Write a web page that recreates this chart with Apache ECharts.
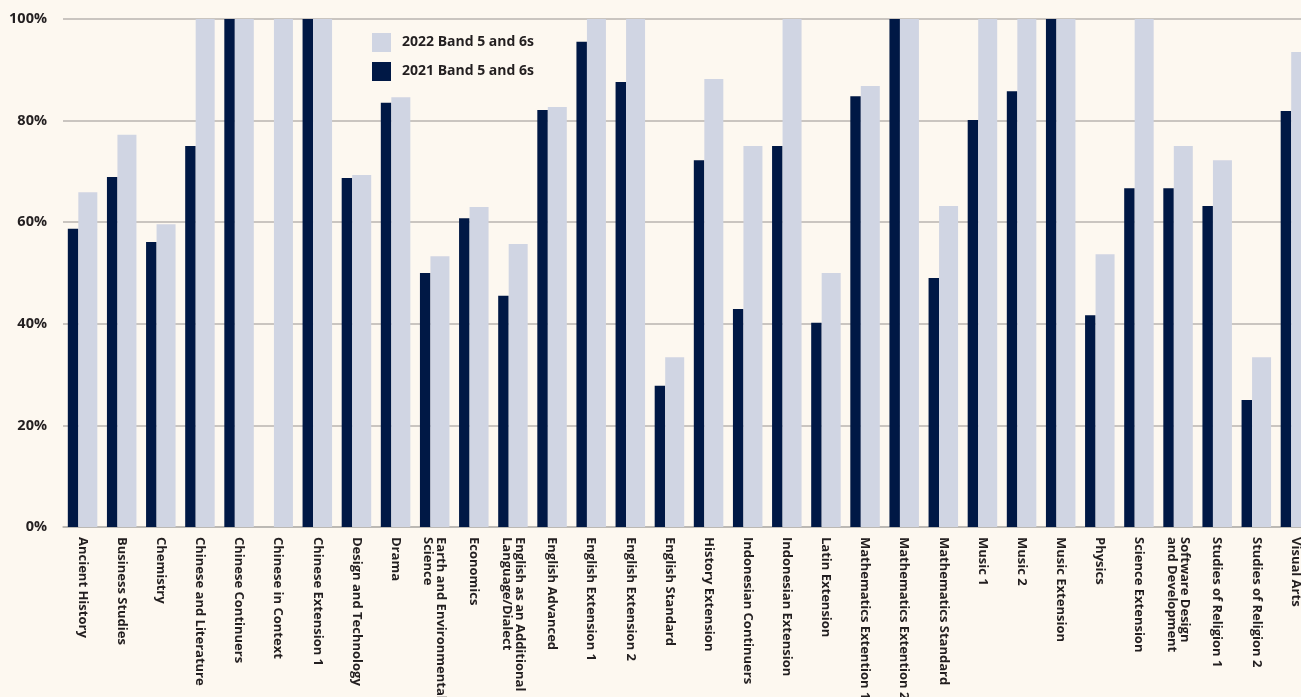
<!DOCTYPE html>
<html>
<head>
<meta charset="utf-8">
<script src="https://cdn.jsdelivr.net/npm/echarts@6/dist/echarts.min.js"></script>
<style>
html,body{margin:0;padding:0;background:#fdf8f0;}
#c{width:1301px;height:697px;}
</style>
</head>
<body>
<div id="c"></div>
<script>
const categories = [
  "Ancient History","Business Studies","Chemistry","Chinese and Literature","Chinese Continuers",
  "Chinese in Context","Chinese Extension 1","Design and Technology","Drama",
  "Earth and Environmental\nScience","Economics","English as an Additional\nLanguage/Dialect",
  "English Advanced","English Extension 1","English Extension 2","English Standard",
  "History Extension","Indonesian Continuers","Indonesian Extension","Latin Extension",
  "Mathematics Extention 1","Mathematics Extention 2","Mathematics Standard","Music 1","Music 2",
  "Music Extension","Physics","Science Extension","Software Design\nand Development",
  "Studies of Religion 1","Studies of Religion 2","Visual Arts"
];
const values2021 = [58.7,68.9,56.1,75.0,100,0,100,68.7,83.5,50.0,60.8,45.5,82.1,95.5,87.6,27.8,
  72.2,42.9,75.0,40.2,84.8,100,49.0,80.1,85.8,100,41.7,66.7,66.7,63.2,25.0,81.9];
const values2022 = [65.9,77.2,59.6,100,100,100,100,69.3,84.6,53.3,63.0,55.7,82.7,100,100,33.4,
  88.2,75.0,100,50.0,86.8,100,63.2,100,100,100,53.7,100,75.0,72.2,33.4,93.5];
const yTicks = [0,20,40,60,80,100];

const chart = echarts.init(document.getElementById('c'));
chart.setOption({
  backgroundColor: '#fdf8f0',
  animation: false,
  textStyle: {fontFamily: 'Open Sans'},
  legend: {
    data: ['2022 Band 5 and 6s','2021 Band 5 and 6s'],
    orient: 'vertical',
    left: 372, top: 33, padding: 0,
    itemWidth: 19, itemHeight: 19, itemGap: 10,
    icon: 'rect',
    textStyle: {fontSize: 14, fontWeight: 'bold', color: '#231f20', fontFamily: 'Open Sans', padding:[0,0,0,6]}
  },
  grid: {left: 63, top: 19, bottom: 170, right: -14, containLabel: false, outerBoundsMode: 'none'},
  xAxis: {
    type: 'category',
    data: categories,
    axisLine: {show: true, lineStyle: {color: '#b8b5b0', width: 1.5}},
    axisTick: {show: false},
    axisLabel: {
      interval: 0, rotate: -90, margin: 10,
      fontSize: 13, fontWeight: 'bold', color: '#231f20', fontFamily: 'Open Sans', lineHeight: 13
    }
  },
  yAxis: {
    type: 'value', min: 0, max: 100, interval: 20,
    axisLine: {show: false}, axisTick: {show: false},
    splitLine: {lineStyle: {color: '#b8b5b0', width: 1.5}},
    axisLabel: {
      margin: 16, fontSize: 14.5, fontWeight: 'bold', color: '#231f20', fontFamily: 'Open Sans',
      formatter: v => yTicks.includes(v) ? v + '%' : ''
    }
  },
  series: [
    {name: '2021 Band 5 and 6s', type: 'bar', data: values2021, barWidth: 10.5, barGap: '0%',
     itemStyle: {color: '#001845'}},
    {name: '2022 Band 5 and 6s', type: 'bar', data: values2022, barWidth: 19, barGap: '0%',
     itemStyle: {color: '#d0d5e3'}}
  ]
});
</script>
</body>
</html>
